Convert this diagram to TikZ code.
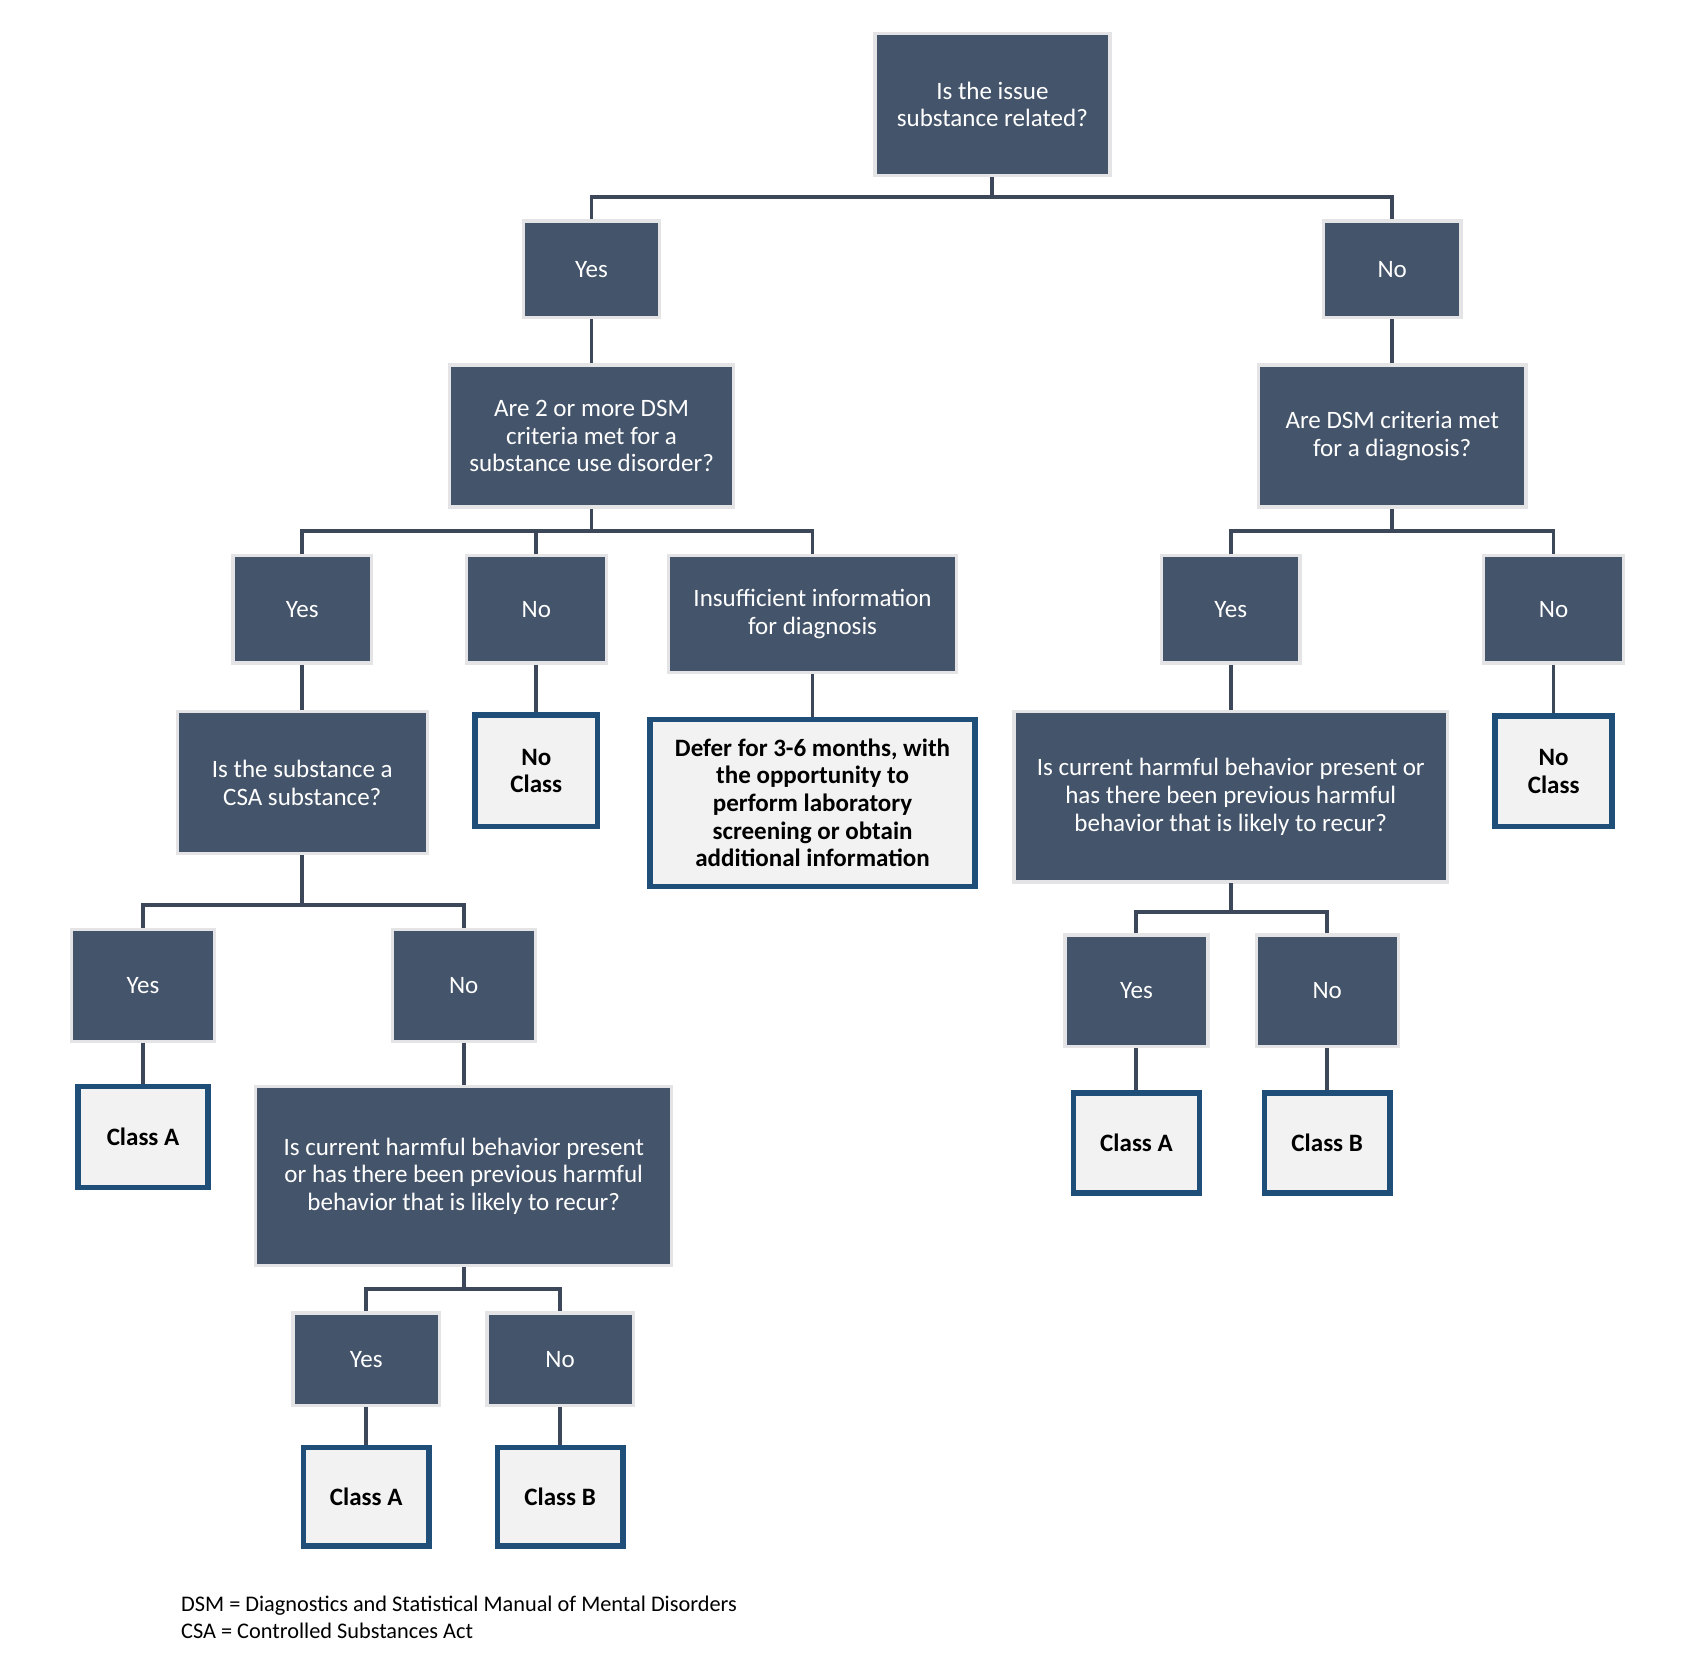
\documentclass[tikz,border=0pt]{standalone}
\usepackage{fontspec}
\setmainfont{Carlito}
\definecolor{darkfill}{HTML}{44546A}
\definecolor{lightedge}{HTML}{E4E4E6}
\definecolor{endfill}{HTML}{F2F2F2}
\definecolor{endedge}{HTML}{1F4E79}
\definecolor{linkcol}{HTML}{3C475A}
\tikzset{
  qbox/.style={rectangle, fill=darkfill, draw=lightedge, line width=3pt, inner sep=0pt,
    text=white, align=center, font=\fontsize{23.1}{25.5}\selectfont},
  endbox/.style={rectangle, fill=endfill, draw=endedge, line width=5pt, inner sep=0pt,
    text=black, align=center, font=\fontsize{23.1}{25.5}\selectfont\bfseries},
  link/.style={draw=linkcol, line width=3.5pt},
  note/.style={anchor=base west, inner sep=0pt, font=\fontsize{20.6}{25}\selectfont}
}
\begin{document}
\begin{tikzpicture}[x=1pt,y=-1pt]
\useasboundingbox[fill=white] (0,0) rectangle (1555,1535);
\begin{scope}[shift={(1,0.5)}, scale=0.991, transform shape]
% level 0
\node[qbox, minimum width=217pt, minimum height=131pt] (top) at (915,96) {Is the issue\\substance related?};
% level 1
\node[qbox, minimum width=126pt, minimum height=89pt] (yes1) at (545,248) {Yes};
\node[qbox, minimum width=127pt, minimum height=89pt] (no1) at (1284,248) {No};
% level 2
\node[qbox, minimum width=262pt, minimum height=131pt] (dsm) at (545,402) {Are 2 or more DSM\\criteria met for a\\substance use disorder?};
\node[qbox, minimum width=247pt, minimum height=131pt] (dsmr) at (1284,402) {Are DSM criteria met\\for a diagnosis?};
% level 3
\node[qbox, minimum width=128pt, minimum height=99pt] (yes2) at (278,562) {Yes};
\node[qbox, minimum width=129pt, minimum height=99pt] (no2) at (494,562) {No};
\node[qbox, minimum width=266pt, minimum height=108pt] (insuf) at (749,566.5) {Insufficient information\\for diagnosis};
\node[qbox, minimum width=128pt, minimum height=99pt] (yes2r) at (1135,562) {Yes};
\node[qbox, minimum width=129pt, minimum height=99pt] (no2r) at (1433,562) {No};
% level 4
\node[qbox, minimum width=231pt, minimum height=131pt] (csa) at (278,722) {Is the substance a\\CSA substance?};
\node[endbox, minimum width=113pt, minimum height=103pt] (nocl1) at (494,711) {No\\Class};
\node[endbox, minimum width=300pt, minimum height=154pt] (defer) at (749,740.5) {Defer for 3-6 months, with\\the opportunity to\\perform laboratory\\screening or obtain\\additional information};
\node[qbox, minimum width=400pt, minimum height=157pt] (harmr) at (1135,735) {Is current harmful behavior present or\\has there been previous harmful\\behavior that is likely to recur?};
\node[endbox, minimum width=108pt, minimum height=102pt] (noclr) at (1433,711.5) {No\\Class};
% level 5 left
\node[qbox, minimum width=132pt, minimum height=103pt] (yes3) at (131,909) {Yes};
\node[qbox, minimum width=132pt, minimum height=103pt] (no3) at (427,909) {No};
\node[endbox, minimum width=120pt, minimum height=93pt] (clA1) at (131,1049) {Class A};
\node[qbox, minimum width=384pt, minimum height=165pt] (harml) at (427,1085) {Is current harmful behavior present\\or has there been previous harmful\\behavior that is likely to recur?};
\node[qbox, minimum width=135pt, minimum height=85pt] (yes4) at (337,1254) {Yes};
\node[qbox, minimum width=135pt, minimum height=85pt] (no4) at (516,1254) {No};
\node[endbox, minimum width=116pt, minimum height=91pt] (clA2) at (337,1381) {Class A};
\node[endbox, minimum width=116pt, minimum height=91pt] (clB2) at (516,1381) {Class B};
% level 5 right
\node[qbox, minimum width=132pt, minimum height=103pt] (yes3r) at (1048,914) {Yes};
\node[qbox, minimum width=131pt, minimum height=103pt] (no3r) at (1224,914) {No};
\node[endbox, minimum width=116pt, minimum height=92pt] (clAr) at (1048,1054.5) {Class A};
\node[endbox, minimum width=116pt, minimum height=92pt] (clBr) at (1224,1054.5) {Class B};

% junctions
\coordinate (j0) at (915,181);
\coordinate (j1) at (545,490);
\coordinate (j1r) at (1284,490);
\coordinate (j2) at (278,835);
\coordinate (j3) at (427,1189);
\coordinate (j2r) at (1135,841);

% connectors
\draw[link] (top.south) -- (j0);
\draw[link] (yes1.north) |- (j0) -| (no1.north);
\draw[link] (yes1.south) -- (dsm.north);
\draw[link] (no1.south) -- (dsmr.north);
\draw[link] (dsm.south) -- (j1);
\draw[link] (yes2.north) |- (j1) -| (insuf.north);
\draw[link] (no2.north) -- (no2.north |- j1);
\draw[link] (dsmr.south) -- (j1r);
\draw[link] (yes2r.north) |- (j1r) -| (no2r.north);
\draw[link] (yes2.south) -- (csa.north);
\draw[link] (no2.south) -- (nocl1.north);
\draw[link] (insuf.south) -- (defer.north);
\draw[link] (yes2r.south) -- (harmr.north);
\draw[link] (no2r.south) -- (noclr.north);
\draw[link] (csa.south) -- (j2);
\draw[link] (yes3.north) |- (j2) -| (no3.north);
\draw[link] (yes3.south) -- (clA1.north);
\draw[link] (no3.south) -- (harml.north);
\draw[link] (harml.south) -- (j3);
\draw[link] (yes4.north) |- (j3) -| (no4.north);
\draw[link] (yes4.south) -- (clA2.north);
\draw[link] (no4.south) -- (clB2.north);
\draw[link] (harmr.south) -- (j2r);
\draw[link] (yes3r.north) |- (j2r) -| (no3r.north);
\draw[link] (yes3r.south) -- (clAr.north);
\draw[link] (no3r.south) -- (clBr.north);

% notes
\node[note] (fn1) at (166,1487) {DSM = Diagnostics and Statistical Manual of Mental Disorders};
\node[note] (fn2) at (166,1512) {CSA = Controlled Substances Act};
\end{scope}
\end{tikzpicture}
\end{document}
